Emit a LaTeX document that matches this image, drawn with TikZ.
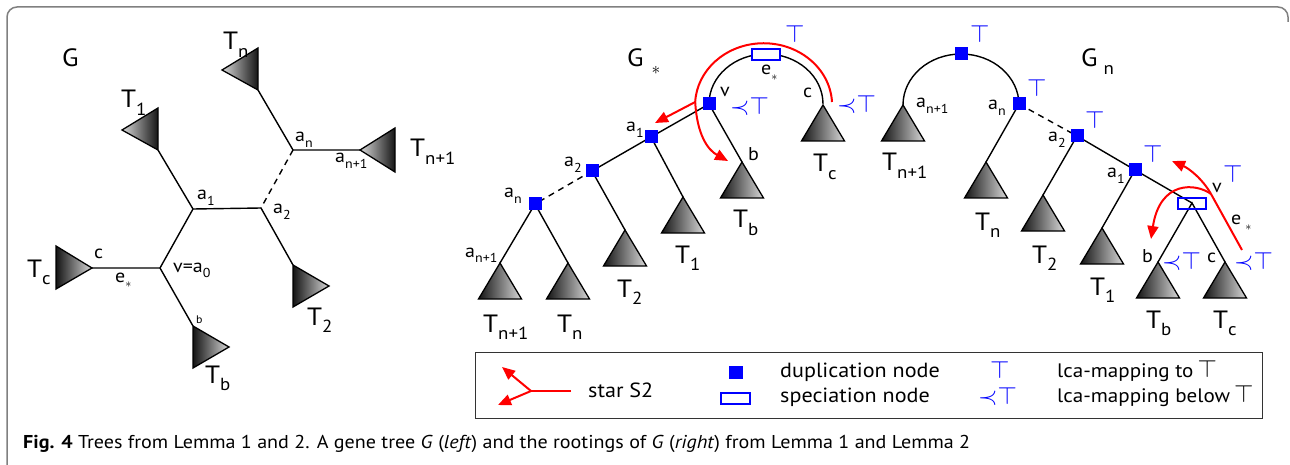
\documentclass[tikz,border=0pt]{standalone}
\usepackage{fontspec}
\setmainfont{PT Sans}[FakeStretch=1.08]
\usepackage{graphicx}
\usetikzlibrary{arrows.meta}
\newcommand\lo[1]{\raisebox{-0.3em}{\scalebox{0.7}{#1}}}
\newcommand\fs[1]{\fontsize{#1}{#1}\selectfont}
\newcommand\tp{\(\top\)}
\newcommand\ptp{\(\mathord{\prec}\mathord{\top}\)}
\newcommand\uptri[1]{\draw[tri] (#1) -- ++(-21.5,-36) -- ++(43,0) -- cycle;}
\begin{document}
\begin{tikzpicture}[x=1pt,y=1pt,
 edge/.style={line width=1.4pt},
 tri/.style={draw=black,line width=1.3pt,left color=black!92,right color=black!15},
 tril/.style={draw=black,line width=1.3pt,left color=black!15,right color=black!92},
 dup/.style={fill=blue,minimum width=13pt,minimum height=13pt,inner sep=0pt},
 spec/.style={draw=blue,line width=2pt,fill=white,minimum width=28pt,minimum height=11pt,inner sep=0pt},
 t/.style={inner sep=0pt,anchor=base west},
 big/.style={t,font=\fs{25}},
 lab/.style={t,font=\fs{18.5}},
 leglab/.style={t,font=\fs{20.5}},
 lcalab/.style={t,font=\fs{19.5}},
 tl/.style={t,text=blue,font=\fs{26}},
 star/.style={draw=red,line width=2pt},
 arr/.style={star,-{Triangle[length=13pt,width=11pt]}},
 dsh/.style={edge,dash pattern=on 6pt off 5pt},
]
\useasboundingbox (0,0) rectangle (1290,-465);
% frame
\draw[black!50,line width=1.5pt] (7,-465) -- (7,-17) arc[start angle=180,end angle=90,radius=10] -- (1278,-7) arc[start angle=90,end angle=0,radius=10] -- (1288,-22);

% ================= left tree G
\coordinate (Lan) at (293,-150);
\coordinate (La1) at (193,-209);
\coordinate (La2) at (261,-208);
\coordinate (Lv) at (160,-268);
\coordinate (LTn) at (258,-90);
\coordinate (LT1) at (158,-150);
\coordinate (LTm) at (360,-150);
\coordinate (LTc) at (92,-268);
\coordinate (LT2) at (293,-265);
\coordinate (LTb) at (193,-326);
\draw[edge] (LTn) -- (Lan) -- (LTm);
\draw[dsh] (Lan) -- (La2);
\draw[edge] (LT1) -- (La1) -- (La2) -- (LT2);
\draw[edge] (La1) -- (Lv) -- (LTc);
\draw[edge] (Lv) -- (LTb);
\draw[tril] (222,-70) -- (258,-48) -- (LTn) -- cycle;
\draw[tril] (122,-130) -- (158,-108) -- (LT1) -- cycle;
\draw[tril] (LTm) -- (395,-128) -- (395,-172) -- cycle;
\draw[tri] (LTc) -- (56,-246) -- (56,-289) -- cycle;
\draw[tri] (LT2) -- (293,-307) -- (329,-286) -- cycle;
\draw[tri] (LTb) -- (193,-368) -- (229,-347) -- cycle;
\node[big] (LG) at (62,-67) {G};
\node[big] (LlTn) at (223,-50) {T\lo{n}};
\node[big] (LlT1) at (121,-108) {T\lo{1}};
\node[big] (LlTm) at (410,-157) {T\lo{n+1}};
\node[big] (LlTc) at (27,-277) {T\lo{c}};
\node[big] (LlT2) at (307,-325) {T\lo{2}};
\node[big] (LlTb) at (205,-383) {T\lo{b}};
\node[lab] (Llan) at (295,-142) {a\lo{n}};
\node[lab] (Llam) at (335,-163) {a\lo{n+1}};
\node[lab] (Lla1) at (197,-200) {a\lo{1}};
\node[lab] (Lla2) at (273,-214) {a\lo{2}};
\node[lab] (Llv) at (173,-272) {v=a\lo{0}};
\node[lab] (Llc) at (94,-258) {c};
\node[lab] (Lle) at (115,-282) {e\lo{\(\ast\)}};
\node[t,font=\fs{11}] (Llb) at (196,-323) {b};

% ================= middle tree G*
\coordinate (Mv) at (709,-104);
\coordinate (Ma1) at (651,-137);
\coordinate (Ma2) at (592,-171);
\coordinate (Man) at (535,-204);
\coordinate (MTc) at (823,-105);
\coordinate (MTb) at (742,-162);
\coordinate (MT1) at (683,-197);
\coordinate (MT2) at (625,-230);
\coordinate (MTm) at (500,-263);
\coordinate (MTn) at (568,-263);
\draw[edge] (Mv) arc[start angle=180,end angle=0,x radius=57,y radius=50];
\draw[edge] (MTb) -- (Mv) -- (Ma1) -- (Ma2);
\draw[dsh] (Ma2) -- (Man);
\draw[edge] (Ma1) -- (MT1);
\draw[edge] (Ma2) -- (MT2);
\draw[edge] (MTm) -- (Man) -- (MTn);
\uptri{MTc}\uptri{MTb}\uptri{MT1}\uptri{MT2}\uptri{MTm}\uptri{MTn}
\node[dup] (Mnv) at (Mv) {};
\node[dup] (Mna1) at (Ma1) {};
\node[dup] (Mna2) at (Ma2) {};
\node[dup] (Mnan) at (Man) {};
\node[spec] (Me) at (765.5,-55) {};
% red star
\coordinate (sR) at (832,-102);
\coordinate (sL) at (695.2,-102);
\coordinate (sA) at (655,-123);
\coordinate (sB) at (728,-161);
\draw[star] (sR) arc[start angle=3,end angle=177,x radius=68.5,y radius=62];
\draw[arr] (sL) -- (sA);
\draw[arr] (sL) .. controls (697,-135) and (708,-150) .. (sB);
\node[big] (MG) at (627,-67) {G\hspace{8pt}\lo{\(\ast\)}};
\node[lab] (Mle) at (761,-75) {e\lo{\(\ast\)}};
\node[lab] (Mlv) at (720,-97) {v};
\node[tl] (Mtv) at (730,-115) {\ptp};
\node[tl] (Mtt) at (785,-43) {\tp};
\node[lab] (Mlc) at (803,-98) {c};
\node[tl] (Mtc) at (837,-113) {\ptp};
\node[big] (MlTc) at (813,-172) {T\lo{c}};
\node[lab] (Mlb) at (748,-161) {b};
\node[big] (MlTb) at (733,-228) {T\lo{b}};
\node[lab] (Mla1) at (626,-132) {a\lo{1}};
\node[big] (MlT1) at (675,-263) {T\lo{1}};
\node[lab] (Mla2) at (564,-167) {a\lo{2}};
\node[big] (MlT2) at (617,-297) {T\lo{2}};
\node[lab] (Mlan) at (504,-198) {a\lo{n}};
\node[lab] (Mlam) at (465,-257) {a\lo{n+1}};
\node[big] (MlTm) at (483,-332) {T\lo{n+1}};
\node[big] (MlTn) at (557,-332) {T\lo{n}};

% ================= right tree Gn
\coordinate (Rr) at (961,-54);
\coordinate (RTm) at (903,-105);
\coordinate (Ran) at (1019,-104);
\coordinate (Ra2) at (1077,-136);
\coordinate (Ra1) at (1135,-170);
\coordinate (Rs) at (1192,-203);
\coordinate (RTn) at (986,-162);
\coordinate (RT2) at (1043,-195);
\coordinate (RT1) at (1102,-228);
\coordinate (RTb) at (1158,-262);
\coordinate (RTc) at (1225,-262);
\draw[edge] (RTm) arc[start angle=180,end angle=0,x radius=58,y radius=51];
\draw[edge] (Ran) -- (RTn);
\draw[dsh] (Ran) -- (Ra2);
\draw[edge] (RT2) -- (Ra2) -- (Ra1) -- (Rs);
\draw[edge] (Ra1) -- (RT1);
\draw[edge] (RTb) -- (Rs) -- (RTc);
\uptri{RTm}\uptri{RTn}\uptri{RT2}\uptri{RT1}\uptri{RTb}\uptri{RTc}
\node[dup] (Rnr) at (Rr) {};
\node[dup] (Rnan) at (Ran) {};
\node[dup] (Rna2) at (Ra2) {};
\node[dup] (Rna1) at (Ra1) {};
\node[spec,fill=none] (Rns) at (1192,-204) {};
% red star
\coordinate (rs) at (1242,-250);
\coordinate (rj) at (1211,-194);
\coordinate (rA) at (1172,-161);
\coordinate (rB) at (1151,-239);
\draw[star] (rs) -- (rj);
\draw[arr] (rj) .. controls (1202,-178) and (1188,-168) .. (rA);
\draw[arr] (rj) .. controls (1196,-183) and (1160,-180) .. (rB);
\node[big] (RG) at (1081,-67) {G\hspace{6pt}\lo{n}};
\node[tl] (Rtr) at (970,-43) {\tp};
\node[lab] (Rlam) at (916,-108) {a\lo{n+1}};
\node[big] (RlTm) at (882,-171) {T\lo{n+1}};
\node[lab] (Rlan) at (988,-110) {a\lo{n}};
\node[tl] (Rtan) at (1027,-97) {\tp};
\node[big] (RlTn) at (975,-230) {T\lo{n}};
\node[lab] (Rla2) at (1048,-142) {a\lo{2}};
\node[tl] (Rta2) at (1085,-129) {\tp};
\node[big] (RlT2) at (1032,-263) {T\lo{2}};
\node[lab] (Rla1) at (1107,-178) {a\lo{1}};
\node[tl] (Rta1) at (1143,-163) {\tp};
\node[big] (RlT1) at (1090,-295) {T\lo{1}};
\node[lab] (Rlv) at (1212,-193) {v};
\node[tl] (Rtv) at (1223,-183) {\tp};
\node[lab] (Rle) at (1231,-225) {e\hspace{4pt}\lo{\(\ast\)}};
\node[lab] (Rlb) at (1142,-262) {b};
\node[tl] (Rtb) at (1162,-269) {\ptp};
\node[lab] (Rlc) at (1207,-262) {c};
\node[tl] (Rtc) at (1234,-269) {\ptp};
\node[big] (RlTb) at (1146,-328) {T\lo{b}};
\node[big] (RlTc) at (1213,-328) {T\lo{c}};

% ================= legend
\node[draw=black!80,line width=1.2pt,minimum width=787pt,minimum height=66pt,inner sep=0pt,anchor=north west] (leg) at (475,-352) {};
\coordinate (lt) at (571,-391);
\coordinate (lj) at (531,-391);
\coordinate (la) at (502,-367);
\coordinate (lb) at (498,-405);
\draw[star] (lt) -- (lj);
\draw[arr] (lj) -- (la);
\draw[arr] (lj) -- (lb);
\node[leglab] (lstar) at (588,-397) {star S2};
\node[dup,minimum width=14pt] (ldup) at (736,-372) {};
\node[spec,minimum width=29pt] (lspec) at (735,-398.5) {};
\node[leglab] (ldupt) at (780,-377) {duplication node};
\node[leglab] (lspect) at (780,-402) {speciation node};
\node[tl] (ltp) at (990,-378) {\tp};
\node[tl] (lptp) at (978,-404) {\ptp};
\node[lcalab] (ltpt) at (1057,-377) {lca-mapping to\hspace{4pt}{\fs{24}\tp}};
\node[lcalab] (lptpt) at (1057,-402) {lca-mapping below\hspace{4pt}{\fs{24}\tp}};

% ================= caption
\node[t,font=\fs{18.6}] (cap) at (23,-448) {\textbf{Fig. 4} Trees from Lemma 1 and 2. A gene tree \textit{G} (\textit{left}) and the rootings of \textit{G} (\textit{right}) from Lemma 1 and Lemma 2};
\end{tikzpicture}
\end{document}
